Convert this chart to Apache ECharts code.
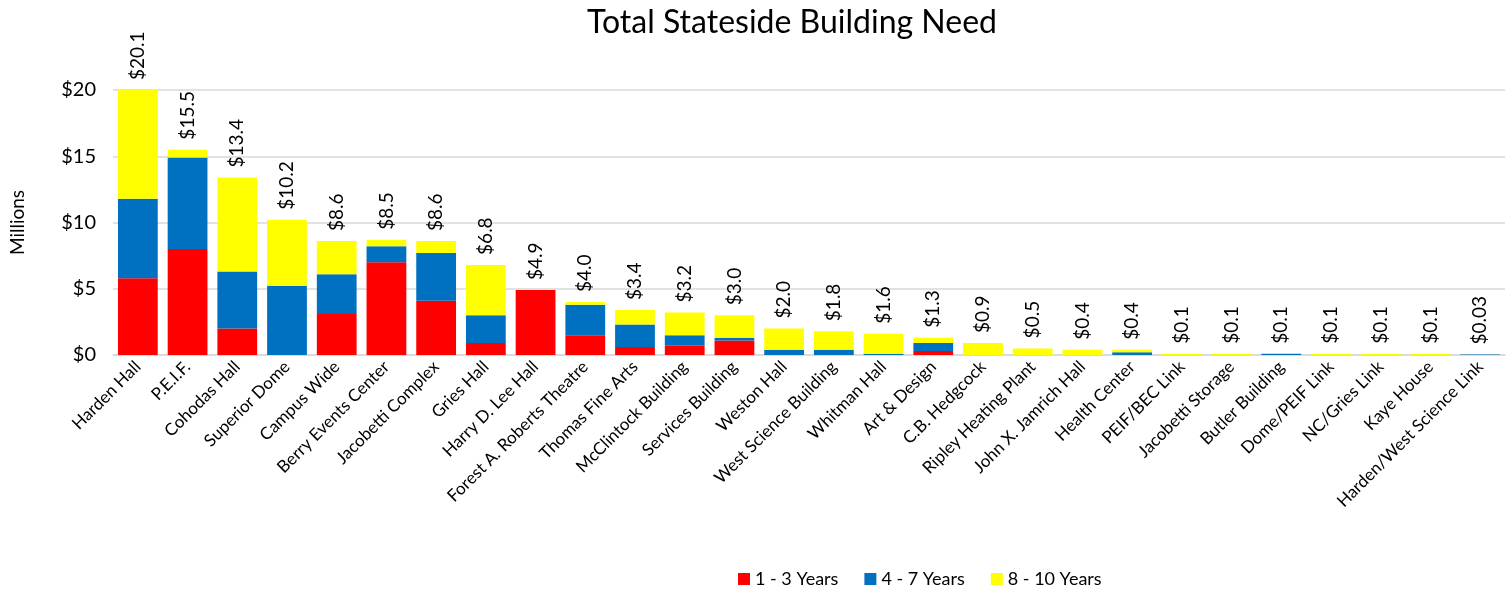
<!DOCTYPE html>
<html><head><meta charset="utf-8">
<script src="https://cdn.jsdelivr.net/npm/echarts@6/dist/echarts.min.js"></script>
<style>html,body{margin:0;padding:0;background:#fff}#c{width:1508px;height:595px}</style>
</head><body><div id="c"></div>
<script>
const categories = ["Harden Hall","P.E.I.F.","Cohodas Hall","Superior Dome","Campus Wide","Berry Events Center","Jacobetti Complex","Gries Hall","Harry D. Lee Hall","Forest A. Roberts Theatre","Thomas Fine Arts","McClintock Building","Services Building","Weston Hall","West Science Building","Whitman Hall","Art & Design","C.B. Hedgcock","Ripley Heating Plant","John X. Jamrich Hall","Health Center","PEIF/BEC Link","Jacobetti Storage","Butler Building","Dome/PEIF Link","NC/Gries Link","Kaye House","Harden/West Science Link"];
const years1to3 = [5.8,8.0,2.0,0,3.1,7.0,4.1,0.9,4.9,1.5,0.6,0.7,1.1,0,0,0,0.3,0,0,0,0,0,0,0,0,0,0,0];
const years4to7 = [6.0,6.9,4.3,5.2,3.0,1.2,3.6,2.1,0,2.3,1.7,0.8,0.2,0.4,0.4,0.1,0.6,0,0,0,0.2,0,0,0.1,0,0,0,0.03];
const years8to10 = [8.3,0.6,7.1,5.0,2.5,0.5,0.9,3.8,0,0.2,1.1,1.7,1.7,1.6,1.4,1.5,0.4,0.9,0.5,0.4,0.2,0.1,0.1,0,0.1,0.1,0.1,0];
const totalLabels = ["$20.1","$15.5","$13.4","$10.2","$8.6","$8.5","$8.6","$6.8","$4.9","$4.0","$3.4","$3.2","$3.0","$2.0","$1.8","$1.6","$1.3","$0.9","$0.5","$0.4","$0.4","$0.1","$0.1","$0.1","$0.1","$0.1","$0.1","$0.03"];
const yTicks = [0,5,10,15,20];

const FONT = 'Lato, "Open Sans", sans-serif';
const chart = echarts.init(document.getElementById('c'), null, {renderer:'canvas'});
chart.setOption({
  animation:false,
  title:{text:'Total Stateside Building Need', left:787, top:2, textAlign:'center',
    textStyle:{fontFamily:FONT, fontSize:32, fontWeight:'normal', color:'#000'}},
  legend:{bottom:2, left:733, itemWidth:12, itemHeight:12, itemGap:26, icon:'rect',
    textStyle:{fontFamily:FONT, fontSize:18, color:'#000'},
    data:['1 - 3 Years','4 - 7 Years','8 - 10 Years']},
  grid:{left:108, right:3, top:90, bottom:240, containLabel:false},
  xAxis:{type:'category', data:categories,
    axisLine:{lineStyle:{color:'#D9D9D9', width:1.5}}, axisTick:{show:false},
    axisLabel:{rotate:45, interval:0, fontFamily:FONT, fontSize:17, color:'#000', margin:9}},
  yAxis:{type:'value', min:0, max:20, interval:5, name:'Millions', nameLocation:'middle', nameGap:86,
    nameTextStyle:{fontFamily:FONT, fontSize:19, color:'#000'},
    splitLine:{lineStyle:{color:'#D9D9D9', width:1.5}},
    axisLabel:{fontFamily:FONT, fontSize:20, color:'#000', margin:17,
      formatter:v=> yTicks.includes(v) ? '$'+v : ''}},
  series:[
    {name:'1 - 3 Years', type:'bar', stack:'t', data:years1to3, barCategoryGap:'20%', itemStyle:{color:'#FF0000'}},
    {name:'4 - 7 Years', type:'bar', stack:'t', data:years4to7, itemStyle:{color:'#0070C0'}},
    {name:'8 - 10 Years', type:'bar', stack:'t', data:years8to10, itemStyle:{color:'#FFFF00'},
      label:{show:true, position:'top', rotate:90, align:'left', verticalAlign:'middle', distance:10,
        fontFamily:FONT, fontSize:19, color:'#000',
        formatter:p=>totalLabels[p.dataIndex]}}
  ]
});
</script></body></html>
